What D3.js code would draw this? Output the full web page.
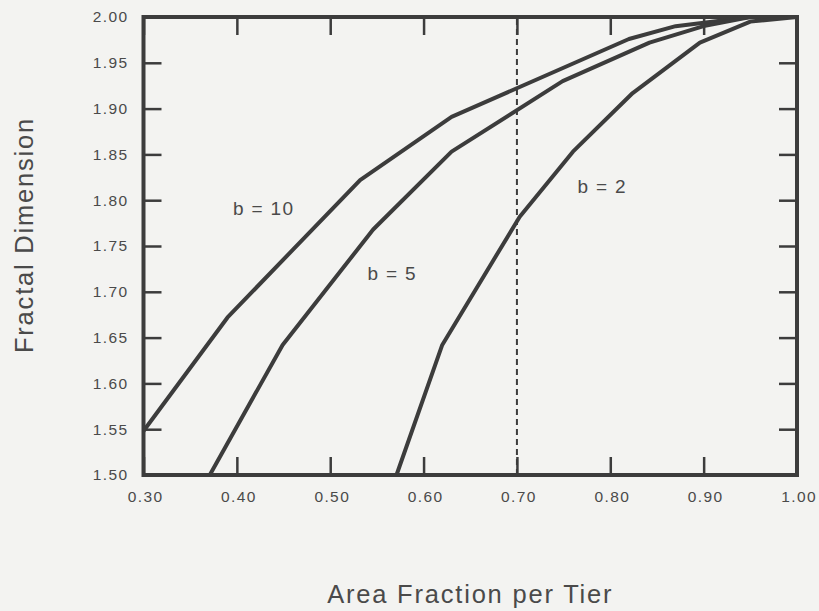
<!DOCTYPE html>
<html>
<head>
	<meta charset="UTF-8">
	<script src="https://d3js.org/d3.v7.min.js"></script>
	<title>Fractal Dimension</title>
	<style>
		body { margin: 0; background: #f3f3f1; }
		svg { display: block; font-family: "Liberation Sans", Arial, sans-serif; }
	</style>
</head>
<body>
	<svg></svg>
	<script type="text/javascript">
		const width = 819;
		const height = 611;
		const margin = ({top: 17, right: 22, bottom: 136, left: 143.5});

		// tick labels
		const xTicks = [0.30, 0.40, 0.50, 0.60, 0.70, 0.80, 0.90, 1.00];
		const yTicks = [1.50, 1.55, 1.60, 1.65, 1.70, 1.75, 1.80, 1.85, 1.90, 1.95, 2.00];

		// curves
		const seriesNames = ["b = 10", "b = 5", "b = 2"];
		const areaB10 = [0.300, 0.390, 0.532, 0.630, 0.820, 0.870, 0.950, 1.000];
		const dimB10  = [1.548, 1.672, 1.822, 1.891, 1.976, 1.990, 2.000, 2.000];
		const areaB5  = [0.371, 0.449, 0.546, 0.630, 0.749, 0.842, 0.900, 0.950, 1.000];
		const dimB5   = [1.500, 1.642, 1.768, 1.853, 1.930, 1.972, 1.990, 2.000, 2.000];
		const areaB2  = [0.571, 0.620, 0.703, 0.760, 0.824, 0.896, 0.950, 1.000];
		const dimB2   = [1.500, 1.642, 1.782, 1.853, 1.917, 1.972, 1.995, 2.000];
		const markerArea = 0.70;

		const series = [
			{name: seriesNames[0], pts: d3.zip(areaB10, dimB10), lx: 0.396, ly: 1.784},
			{name: seriesNames[1], pts: d3.zip(areaB5, dimB5), lx: 0.540, ly: 1.713},
			{name: seriesNames[2], pts: d3.zip(areaB2, dimB2), lx: 0.765, ly: 1.808}
		];

		const ink = "#3c3c3c";
		const textInk = "#4a4a4a";

		const x = d3.scaleLinear()
			.domain([0.30, 1.00])
			.range([margin.left, width - margin.right]);

		const y = d3.scaleLinear()
			.domain([1.50, 2.00])
			.range([height - margin.bottom, margin.top]);

		const svg = d3.select("svg")
			.attr("width", width)
			.attr("height", height)
			.attr("viewBox", [0, 0, width, height]);

		const fmt = d3.format(".2f");

		const tickStyle = g => g
			.call(g => g.select(".domain").remove())
			.call(g => g.selectAll(".tick line").attr("stroke", ink).attr("stroke-width", 2.5))
			.call(g => g.selectAll(".tick text")
				.attr("fill", textInk)
				.attr("font-size", 15.5)
				.attr("letter-spacing", "1.4px"));

		// bottom axis with labels
		svg.append("g")
			.attr("transform", `translate(0,${y(1.5)})`)
			.call(d3.axisBottom(x).tickValues(xTicks).tickFormat(fmt).tickSizeInner(-18).tickSizeOuter(0).tickPadding(16))
			.call(tickStyle)
			.call(g => g.selectAll(".tick text").attr("dx", "0.1em"));

		// left axis with labels
		svg.append("g")
			.attr("transform", `translate(${x(0.3)},0)`)
			.call(d3.axisLeft(y).tickValues(yTicks).tickFormat(fmt).tickSizeInner(-18).tickSizeOuter(0).tickPadding(15))
			.call(tickStyle);

		// top and right ticks, no labels
		svg.append("g")
			.attr("transform", `translate(0,${y(2)})`)
			.call(d3.axisTop(x).tickValues(xTicks).tickFormat("").tickSizeInner(-18).tickSizeOuter(0))
			.call(tickStyle);

		svg.append("g")
			.attr("transform", `translate(${x(1)},0)`)
			.call(d3.axisRight(y).tickValues(yTicks).tickFormat("").tickSizeInner(-18).tickSizeOuter(0))
			.call(tickStyle);

		// frame
		svg.append("rect")
			.attr("x", x(0.3))
			.attr("y", y(2))
			.attr("width", x(1) - x(0.3))
			.attr("height", y(1.5) - y(2))
			.attr("fill", "none")
			.attr("stroke", ink)
			.attr("stroke-width", 4);

		// dashed marker
		svg.append("line")
			.attr("x1", x(markerArea))
			.attr("x2", x(markerArea))
			.attr("y1", y(1.5))
			.attr("y2", y(2))
			.attr("stroke", ink)
			.attr("stroke-width", 2)
			.attr("stroke-dasharray", "6,4");

		const line = d3.line()
			.x(d => x(d[0]))
			.y(d => y(d[1]));

		svg.append("g")
			.selectAll("path")
			.data(series)
			.join("path")
				.attr("d", d => line(d.pts))
				.attr("fill", "none")
				.attr("stroke", ink)
				.attr("stroke-width", 4)
				.attr("stroke-linejoin", "round");

		svg.append("g")
			.selectAll("text")
			.data(series)
			.join("text")
				.attr("x", d => x(d.lx))
				.attr("y", d => y(d.ly))
				.attr("fill", textInk)
				.attr("font-size", 19)
				.attr("letter-spacing", "1.3px")
				.text(d => d.name);

		// axis titles
		svg.append("text")
			.attr("x", (x(0.3) + x(1)) / 2)
			.attr("y", 603)
			.attr("text-anchor", "middle")
			.attr("fill", textInk)
			.attr("font-size", 25.5)
			.attr("letter-spacing", "1.8px")
			.text("Area Fraction per Tier");

		svg.append("text")
			.attr("transform", `translate(33,${235}) rotate(-90)`)
			.attr("text-anchor", "middle")
			.attr("fill", textInk)
			.attr("font-size", 25.5)
			.attr("letter-spacing", "1.8px")
			.text("Fractal Dimension");
	</script>
</body>
</html>
